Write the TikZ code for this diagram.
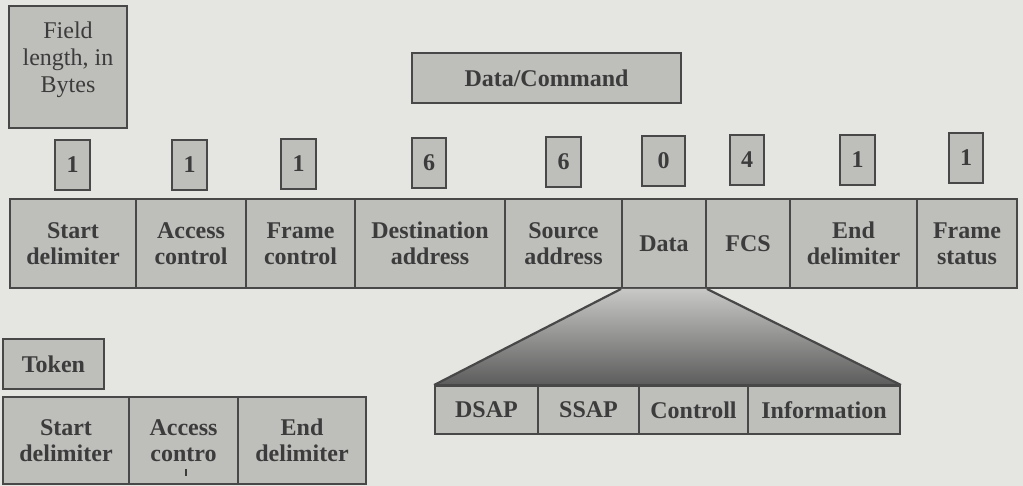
\documentclass[tikz,border=0pt]{standalone}
\usepackage{fontspec}
\setmainfont{Liberation Serif}
\definecolor{paper}{RGB}{229,229,225}
\definecolor{boxfill}{RGB}{190,190,187}
\definecolor{edge}{RGB}{72,72,72}
\definecolor{ink}{RGB}{60,60,60}
\definecolor{fanlight}{RGB}{200,200,198}
\definecolor{fandark}{RGB}{92,92,92}
\tikzset{
  fbox/.style={draw=edge, fill=boxfill, line width=1.9pt, inner sep=0pt,
    text=ink, align=center, font=\bfseries\fontsize{24}{26}\selectfont},
  plainbox/.style={fbox, font=\fontsize{24}{27}\selectfont},
  fanedge/.style={draw=edge, line width=2.2pt, line join=round},
}
% #1 name, #2 x1, #3 y1, #4 x2, #5 y2, #6 style, #7 text
\newcommand\fieldcell[7]{%
  \node[#6, minimum width={(#4-#2)*1pt}, minimum height={(#5-#3)*1pt}]
    (#1) at ({(#2+#4)/2},{(#3+#5)/2}) {#7};}
\begin{document}
\begin{tikzpicture}[x=1pt,y=-1pt]
  \fill[paper] (0,0) rectangle (1023,486);
  \useasboundingbox (0,0) rectangle (1023,486);

  % legend and frame labels
  \fieldcell{legend}{9}{6}{127}{128}{plainbox}{Field\\length, in\\Bytes\\[-8pt]\mbox{}}
  \fieldcell{datacmd}{412}{53}{681}{103}{fbox}{Data/Command}

  % field lengths
  \fieldcell{n1}{55}{140}{90}{190}{fbox}{1}
  \fieldcell{n2}{172}{140}{207}{190}{fbox}{1}
  \fieldcell{n3}{281}{139}{316}{189}{fbox}{1}
  \fieldcell{n4}{412}{138}{446}{188}{fbox}{6}
  \fieldcell{n5}{546}{137}{581}{187}{fbox}{6}
  \fieldcell{n6}{642}{136}{685}{186}{fbox}{0}
  \fieldcell{n7}{730}{135}{764}{185}{fbox}{4}
  \fieldcell{n8}{840}{135}{875}{185}{fbox}{1}
  \fieldcell{n9}{949}{133}{983}{183}{fbox}{1}

  % data/command frame
  \fieldcell{sd}{10}{199}{136}{288}{fbox}{Start\\delimiter}
  \fieldcell{ac}{136}{199}{246}{288}{fbox}{Access\\control}
  \fieldcell{fc}{246}{199}{355}{288}{fbox}{Frame\\control}
  \fieldcell{da}{355}{199}{505}{288}{fbox}{Destination\\address}
  \fieldcell{sa}{505}{199}{622}{288}{fbox}{Source\\address}
  \fieldcell{data}{622}{199}{706}{288}{fbox}{Data}
  \fieldcell{fcs}{706}{199}{790}{288}{fbox}{FCS}
  \fieldcell{ed}{790}{199}{917}{288}{fbox}{End\\delimiter}
  \fieldcell{fs}{917}{199}{1017}{288}{fbox}{Frame\\status}

  % LLC fields of the data field
  \fieldcell{dsap}{435}{386}{538}{434}{fbox}{DSAP}
  \fieldcell{ssap}{538}{386}{639}{434}{fbox}{SSAP}
  \fieldcell{ctrl}{639}{386}{748}{434}{fbox}{Controll}
  \fieldcell{info}{748}{386}{900}{434}{fbox}{Information}

  % expansion fan from the data field
  \shade[top color=fanlight, bottom color=fandark]
    (data.south west) -- (data.south east) -- (info.north east) -- (dsap.north west) -- cycle;
  \draw[fanedge] (dsap.north west) -- (data.south west) (data.south east) -- (info.north east);
  \draw[fanedge] (dsap.north west) -- (info.north east);

  % token frame
  \fieldcell{token}{3}{339}{104}{389}{fbox}{Token}
  \fieldcell{tsd}{3}{397}{129}{484}{fbox}{Start\\delimiter}
  \fieldcell{tac}{129}{397}{238}{484}{fbox}{Access\\contro}
  \fieldcell{ted}{238}{397}{366}{484}{fbox}{End\\delimiter}
  \fill[ink] (184.8,469) rectangle (187.4,476);
\end{tikzpicture}
\end{document}
